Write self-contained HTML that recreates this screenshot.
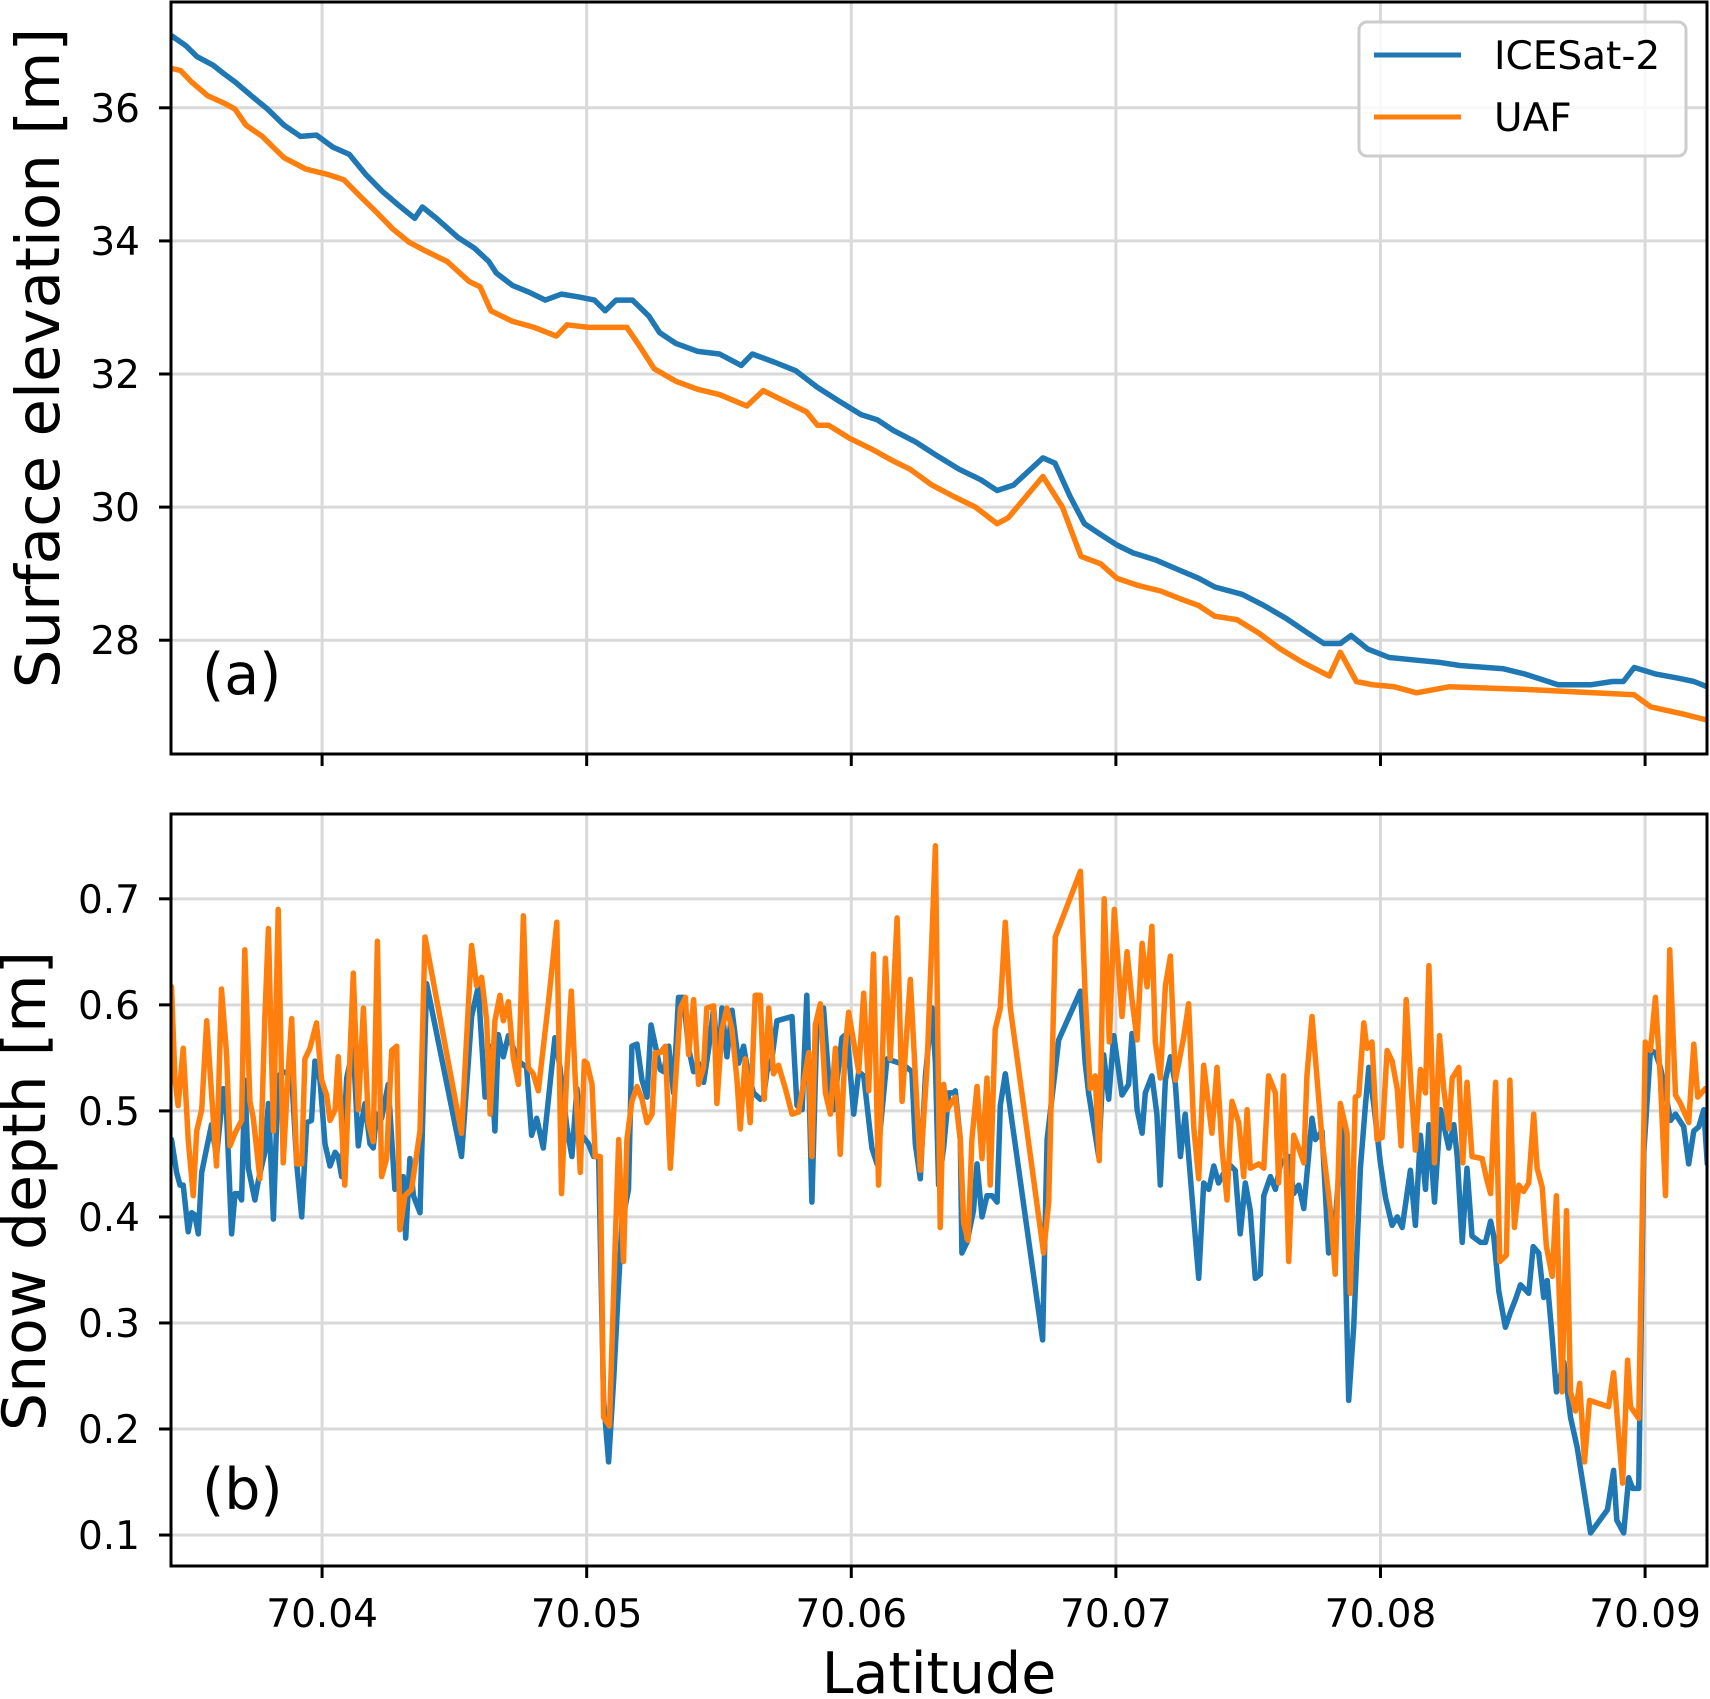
<!DOCTYPE html>
<html><head><meta charset="utf-8">
<style>
html,body{margin:0;padding:0;background:#fff;}
svg{display:block;font-family:"DejaVu Sans","Liberation Sans",sans-serif;}
</style></head>
<body>
<svg id="fig" width="1710" height="1699" viewBox="0 0 1710 1699" xmlns="http://www.w3.org/2000/svg">
<rect width="1710" height="1699" fill="#fff"/>
<g id="panelA"></g>
<g id="panelB"></g>
<text x="0" y="0" font-size="61" text-anchor="middle" transform="translate(59,358) rotate(-90)">Surface elevation [m]</text>
<text x="0" y="0" font-size="60" text-anchor="middle" transform="translate(45,1191) rotate(-90)">Snow depth [m]</text>
<text x="939" y="1693" font-size="57" text-anchor="middle">Latitude</text>
<text x="202" y="694" font-size="57">(a)</text>
<text x="202" y="1509" font-size="57">(b)</text>
<g>
<rect x="1359" y="22" width="327" height="134" rx="8" fill="#fff" fill-opacity="0.8" stroke="#cccccc" stroke-width="3"/>
<line x1="1374" y1="55" x2="1461" y2="55" stroke="#1f77b4" stroke-width="5"/>
<text x="1494" y="69" font-size="39">ICESat-2</text>
<line x1="1374" y1="117" x2="1461" y2="117" stroke="#ff7f0e" stroke-width="5"/>
<text x="1494" y="131" font-size="39">UAF</text>
</g>
</svg>
<script>
const xTicks = [70.04, 70.05, 70.06, 70.07, 70.08, 70.09];
const xTickLabels = ["70.04","70.05","70.06","70.07","70.08","70.09"];
const aTicks = [28, 30, 32, 34, 36];
const aTickLabels = ["28","30","32","34","36"];
const bTicks = [0.1,0.2,0.3,0.4,0.5,0.6,0.7];
const bTickLabels = ["0.1","0.2","0.3","0.4","0.5","0.6","0.7"];

const aIceLat = [70.03432,70.03486,70.03527,70.03588,70.03630,70.03671,70.03733,70.03794,70.03856,70.03918,70.03979,70.04041,70.04103,70.04165,70.04226,70.04288,70.04350,70.04379,70.04432,70.04514,70.04576,70.04630,70.04658,70.04720,70.04782,70.04844,70.04905,70.04967,70.05029,70.05070,70.05111,70.05173,70.05235,70.05276,70.05337,70.05420,70.05502,70.05584,70.05626,70.05708,70.05790,70.05872,70.05955,70.06037,70.06099,70.06160,70.06243,70.06325,70.06407,70.06490,70.06551,70.06613,70.06724,70.06770,70.06827,70.06881,70.06942,70.07004,70.07066,70.07148,70.07230,70.07313,70.07374,70.07477,70.07560,70.07642,70.07724,70.07786,70.07848,70.07889,70.07951,70.08033,70.08136,70.08218,70.08300,70.08465,70.08547,70.08671,70.08794,70.08877,70.08918,70.08959,70.09041,70.09123,70.09185,70.09235];
const aIceVal = [37.08,36.93,36.77,36.64,36.51,36.39,36.18,35.98,35.74,35.57,35.59,35.41,35.30,35.00,34.75,34.54,34.34,34.51,34.34,34.05,33.89,33.69,33.52,33.33,33.23,33.11,33.20,33.16,33.11,32.95,33.11,33.11,32.87,32.62,32.46,32.34,32.30,32.13,32.30,32.18,32.05,31.80,31.59,31.39,31.31,31.15,30.98,30.77,30.57,30.41,30.25,30.33,30.74,30.66,30.16,29.75,29.59,29.43,29.31,29.21,29.07,28.93,28.80,28.69,28.52,28.33,28.11,27.95,27.95,28.07,27.87,27.74,27.70,27.67,27.62,27.57,27.49,27.33,27.33,27.38,27.38,27.59,27.49,27.43,27.38,27.30];
const aUafLat = [70.03432,70.03465,70.03506,70.03568,70.03630,70.03671,70.03712,70.03774,70.03815,70.03856,70.03938,70.04021,70.04082,70.04144,70.04206,70.04267,70.04329,70.04391,70.04473,70.04556,70.04597,70.04638,70.04720,70.04802,70.04885,70.04926,70.05008,70.05152,70.05193,70.05255,70.05337,70.05420,70.05502,70.05605,70.05667,70.05749,70.05831,70.05872,70.05914,70.05996,70.06078,70.06160,70.06222,70.06305,70.06387,70.06469,70.06551,70.06593,70.06724,70.06798,70.06868,70.06942,70.07004,70.07086,70.07169,70.07251,70.07313,70.07374,70.07457,70.07539,70.07621,70.07704,70.07807,70.07848,70.07909,70.07971,70.08053,70.08136,70.08259,70.08547,70.08959,70.09021,70.09144,70.09235];
const aUafVal = [36.59,36.56,36.39,36.18,36.07,35.98,35.74,35.57,35.41,35.25,35.08,35.00,34.92,34.67,34.43,34.18,33.98,33.85,33.69,33.39,33.31,32.95,32.79,32.70,32.57,32.74,32.70,32.70,32.46,32.08,31.89,31.77,31.69,31.52,31.75,31.59,31.43,31.23,31.23,31.03,30.87,30.69,30.57,30.33,30.16,30.00,29.75,29.84,30.46,30.00,29.26,29.15,28.93,28.82,28.74,28.61,28.52,28.36,28.31,28.11,27.87,27.67,27.46,27.82,27.38,27.33,27.30,27.21,27.30,27.26,27.18,27.00,26.89,26.80];

const bIceLat = [70.03431,70.03450,70.03463,70.03475,70.03494,70.03507,70.03519,70.03532,70.03545,70.03564,70.03582,70.03601,70.03627,70.03639,70.03658,70.03671,70.03683,70.03696,70.03708,70.03721,70.03746,70.03759,70.03784,70.03797,70.03816,70.03834,70.03853,70.03885,70.03904,70.03923,70.03942,70.03960,70.03973,70.03992,70.04011,70.04030,70.04049,70.04061,70.04074,70.04093,70.04118,70.04137,70.04149,70.04162,70.04181,70.04193,70.04206,70.04225,70.04250,70.04275,70.04307,70.04316,70.04332,70.04345,70.04370,70.04395,70.04527,70.04565,70.04590,70.04616,70.04635,70.04653,70.04666,70.04685,70.04704,70.04723,70.04742,70.04773,70.04792,70.04811,70.04836,70.04880,70.04899,
70.04925,70.04944,70.04963,70.04982,70.05007,70.05026,70.05045,70.05064,70.05083,70.05102,70.05121,70.05133,70.05158,70.05171,70.05190,70.05209,70.05228,70.05243,70.05265,70.05278,70.05291,70.05310,70.05328,70.05347,70.05366,70.05385,70.05404,70.05423,70.05442,70.05461,70.05480,70.05499,70.05511,70.05530,70.05549,70.05574,70.05593,70.05612,70.05631,70.05656,70.05669,70.05681,70.05700,70.05719,70.05776,70.05795,70.05814,70.05832,70.05851,70.05870,70.05895,70.05914,70.05933,70.05965,70.05984,70.06009,70.06028,70.06047,70.06078,70.06097,70.06135,70.06160,70.06185,70.06210,70.06229,70.06242,70.06261,70.06280,70.06305,70.06318,70.06330,70.06349,70.06368,70.06387,
70.06393,70.06412,70.06418,70.06437,70.06462,70.06475,70.06494,70.06513,70.06532,70.06551,70.06563,70.06582,70.06723,70.06740,70.06784,70.06866,70.06884,70.06897,70.06935,70.06954,70.06973,70.06992,70.07023,70.07048,70.07061,70.07080,70.07099,70.07111,70.07136,70.07155,70.07168,70.07187,70.07206,70.07225,70.07244,70.07262,70.07313,70.07332,70.07351,70.07370,70.07388,70.07426,70.07451,70.07470,70.07489,70.07508,70.07527,70.07546,70.07559,70.07584,70.07603,70.07622,70.07653,70.07672,70.07691,70.07710,70.07741,70.07754,70.07779,70.07804,70.07829,70.07855,70.07880,70.07899,
70.07924,70.07943,70.07956,70.07975,70.08000,70.08019,70.08044,70.08063,70.08082,70.08113,70.08132,70.08151,70.08170,70.08183,70.08204,70.08227,70.08258,70.08277,70.08290,70.08309,70.08327,70.08346,70.08378,70.08397,70.08416,70.08428,70.08447,70.08472,70.08491,70.08510,70.08529,70.08560,70.08577,70.08598,70.08617,70.08630,70.08649,70.08665,70.08693,70.08718,70.08743,70.08794,70.08858,70.08881,70.08893,70.08919,70.08938,70.08953,70.08976,70.08995,70.09020,70.09039,70.09058,70.09071,70.09096,70.09115,70.09146,70.09165,70.09184,70.09203,70.09222,70.09235];
const bIceVal = [0.473,0.442,0.430,0.430,0.386,0.404,0.402,0.384,0.442,0.465,0.487,0.457,0.521,0.497,0.384,0.422,0.422,0.416,0.529,0.446,0.416,0.434,0.461,0.507,0.398,0.533,0.537,0.533,0.450,0.400,0.489,0.491,0.547,0.529,0.469,0.448,0.461,0.457,0.438,0.531,0.559,0.467,0.489,0.507,0.469,0.465,0.497,0.493,0.525,0.426,0.438,0.380,0.455,0.420,0.404,0.620,0.457,0.589,0.617,0.513,0.561,0.481,0.572,0.551,0.571,0.559,0.547,0.541,0.477,0.493,0.465,0.569,0.541,
0.485,0.457,0.521,0.477,0.469,0.457,0.457,0.227,0.169,0.247,0.338,0.394,0.426,0.561,0.563,0.529,0.513,0.581,0.555,0.539,0.537,0.561,0.517,0.607,0.607,0.559,0.537,0.545,0.527,0.559,0.597,0.537,0.597,0.551,0.595,0.545,0.561,0.533,0.517,0.511,0.513,0.537,0.549,0.585,0.589,0.505,0.501,0.609,0.414,0.581,0.597,0.533,0.501,0.569,0.573,0.497,0.537,0.533,0.465,0.450,0.549,0.547,0.545,0.541,0.537,0.469,0.436,0.533,0.597,0.545,0.430,0.465,0.517,0.517,
0.519,0.473,0.366,0.376,0.406,0.450,0.400,0.420,0.420,0.414,0.505,0.535,0.284,0.473,0.567,0.613,0.545,0.517,0.457,0.553,0.511,0.571,0.515,0.525,0.573,0.501,0.479,0.517,0.533,0.497,0.430,0.529,0.551,0.525,0.457,0.497,0.342,0.432,0.426,0.448,0.432,0.450,0.444,0.384,0.432,0.406,0.342,0.346,0.420,0.438,0.426,0.450,0.457,0.422,0.430,0.408,0.493,0.473,0.481,0.366,0.394,0.485,0.227,0.298,
0.446,0.505,0.541,0.505,0.450,0.418,0.392,0.400,0.390,0.444,0.392,0.477,0.426,0.487,0.414,0.501,0.465,0.487,0.457,0.376,0.446,0.382,0.376,0.376,0.396,0.382,0.330,0.296,0.310,0.322,0.336,0.328,0.372,0.366,0.324,0.340,0.286,0.235,0.263,0.211,0.183,0.102,0.124,0.161,0.114,0.102,0.154,0.144,0.144,0.461,0.557,0.555,0.541,0.525,0.491,0.497,0.485,0.450,0.481,0.485,0.501,0.450];

const bUafLat = [70.03431,70.03444,70.03456,70.03475,70.03494,70.03513,70.03526,70.03545,70.03564,70.03582,70.03601,70.03620,70.03639,70.03652,70.03671,70.03696,70.03708,70.03727,70.03740,70.03765,70.03784,70.03797,70.03816,70.03834,70.03853,70.03872,70.03885,70.03904,70.03923,70.03935,70.03954,70.03979,70.03998,70.04017,70.04030,70.04049,70.04061,70.04086,70.04118,70.04137,70.04156,70.04175,70.04193,70.04209,70.04225,70.04244,70.04263,70.04282,70.04294,70.04313,70.04338,70.04370,70.04389,70.04527,70.04565,70.04584,70.04603,70.04622,70.04635,70.04653,70.04672,70.04685,70.04704,70.04723,70.04742,70.04761,70.04779,70.04798,70.04817,70.04855,70.04887,70.04905,
70.04925,70.04942,70.04957,70.04976,70.04991,70.05001,70.05020,70.05032,70.05051,70.05064,70.05086,70.05108,70.05121,70.05139,70.05152,70.05171,70.05190,70.05209,70.05228,70.05247,70.05259,70.05278,70.05297,70.05316,70.05335,70.05354,70.05373,70.05385,70.05404,70.05423,70.05442,70.05454,70.05480,70.05492,70.05511,70.05530,70.05549,70.05568,70.05580,70.05599,70.05618,70.05637,70.05656,70.05671,70.05688,70.05706,70.05725,70.05751,70.05776,70.05801,70.05820,70.05839,70.05851,70.05864,70.05883,70.05902,70.05921,70.05940,70.05958,70.05977,70.05990,70.06009,70.06028,70.06047,70.06066,70.06084,70.06103,70.06129,70.06147,70.06173,70.06192,70.06223,70.06261,70.06286,70.06318,70.06336,70.06349,70.06362,70.06381,
70.06393,70.06412,70.06425,70.06441,70.06456,70.06475,70.06494,70.06513,70.06525,70.06544,70.06563,70.06582,70.06601,70.06727,70.06746,70.06771,70.06866,70.06884,70.06903,70.06922,70.06937,70.06956,70.06975,70.06994,70.07023,70.07042,70.07061,70.07080,70.07099,70.07118,70.07136,70.07149,70.07168,70.07187,70.07206,70.07225,70.07256,70.07275,70.07294,70.07313,70.07332,70.07363,70.07382,70.07401,70.07420,70.07439,70.07464,70.07483,70.07496,70.07508,70.07540,70.07559,70.07577,70.07603,70.07615,70.07634,70.07653,70.07672,70.07691,70.07710,70.07722,70.07741,70.07779,70.07811,70.07829,70.07848,70.07874,70.07886,70.07905,
70.07918,70.07937,70.07949,70.07968,70.07987,70.08006,70.08025,70.08044,70.08063,70.08078,70.08097,70.08113,70.08132,70.08151,70.08170,70.08183,70.08204,70.08223,70.08239,70.08258,70.08271,70.08296,70.08311,70.08327,70.08346,70.08384,70.08403,70.08416,70.08435,70.08451,70.08476,70.08489,70.08506,70.08523,70.08541,70.08560,70.08579,70.08592,70.08611,70.08627,70.08649,70.08665,70.08686,70.08703,70.08718,70.08737,70.08753,70.08771,70.08790,70.08862,70.08881,70.08915,70.08934,70.08945,70.08976,70.09001,70.09020,70.09039,70.09058,70.09077,70.09093,70.09115,70.09134,70.09165,70.09184,70.09199,70.09228];
const bUafVal = [0.617,0.529,0.505,0.559,0.473,0.420,0.481,0.501,0.585,0.517,0.448,0.615,0.553,0.467,0.479,0.491,0.652,0.509,0.493,0.436,0.589,0.672,0.481,0.690,0.451,0.537,0.587,0.450,0.450,0.549,0.559,0.583,0.529,0.515,0.491,0.501,0.551,0.430,0.630,0.501,0.597,0.489,0.471,0.660,0.438,0.455,0.557,0.561,0.388,0.420,0.426,0.481,0.664,0.479,0.656,0.618,0.626,0.585,0.497,0.585,0.609,0.585,0.603,0.549,0.525,0.684,0.541,0.535,0.519,0.601,0.678,0.422,
0.537,0.613,0.529,0.442,0.547,0.545,0.525,0.457,0.457,0.211,0.203,0.378,0.473,0.358,0.473,0.509,0.523,0.511,0.489,0.497,0.555,0.555,0.561,0.446,0.525,0.597,0.607,0.553,0.605,0.525,0.541,0.597,0.599,0.507,0.577,0.597,0.577,0.529,0.483,0.549,0.489,0.609,0.609,0.511,0.597,0.535,0.543,0.521,0.497,0.499,0.527,0.555,0.457,0.581,0.601,0.517,0.497,0.559,0.459,0.559,0.593,0.565,0.537,0.611,0.519,0.648,0.430,0.644,0.549,0.682,0.509,0.624,0.444,0.541,0.750,0.390,0.525,0.501,0.509,
0.513,0.473,0.394,0.378,0.473,0.523,0.455,0.531,0.430,0.577,0.597,0.678,0.597,0.366,0.414,0.664,0.726,0.609,0.521,0.533,0.453,0.700,0.565,0.690,0.589,0.650,0.605,0.567,0.658,0.617,0.674,0.565,0.531,0.618,0.646,0.529,0.569,0.601,0.485,0.436,0.543,0.479,0.541,0.465,0.416,0.509,0.489,0.438,0.501,0.446,0.450,0.446,0.533,0.517,0.432,0.533,0.358,0.477,0.465,0.451,0.533,0.589,0.473,0.406,0.346,0.507,0.479,0.328,0.513,
0.515,0.583,0.559,0.565,0.473,0.475,0.557,0.547,0.521,0.467,0.605,0.533,0.463,0.539,0.517,0.637,0.451,0.571,0.521,0.483,0.531,0.541,0.451,0.527,0.457,0.455,0.434,0.422,0.527,0.358,0.364,0.529,0.390,0.430,0.424,0.432,0.497,0.446,0.428,0.372,0.344,0.420,0.235,0.406,0.235,0.217,0.243,0.169,0.227,0.221,0.253,0.149,0.265,0.221,0.210,0.565,0.557,0.607,0.529,0.420,0.652,0.515,0.507,0.489,0.563,0.513,0.521];

const NS = "http://www.w3.org/2000/svg";
const X0 = 171, X1 = 1707, LAT0 = 70.03429, LAT1 = 70.09234;
function xScale(v){ return X0 + (v - LAT0) / (LAT1 - LAT0) * (X1 - X0); }
function mk(tag, attrs, parent){
  const el = document.createElementNS(NS, tag);
  for (const k in attrs) el.setAttribute(k, attrs[k]);
  parent.appendChild(el);
  return el;
}
function drawPanel(g, top, bottom, yMin, yMax, yTicks, yLabels, showX, series, prefix){
  const yScale = v => bottom - (v - yMin) / (yMax - yMin) * (bottom - top);
  const defs = mk('clipPath', {id: prefix + '-clip'}, g);
  mk('rect', {x: X0, y: top, width: X1 - X0, height: bottom - top}, defs);
  xTicks.forEach((t, i) => {
    const x = xScale(t);
    const gl = mk('line', {x1: x, x2: x, y1: top, y2: bottom, stroke: '#d9d9d9', 'stroke-width': 3}, g);
    
    
    const tk = mk('line', {x1: x, x2: x, y1: bottom, y2: bottom + 12, stroke: '#000', 'stroke-width': 3}, g);
    
    
    if (showX) {
      const tl = mk('text', {x: x, y: bottom + 61, 'font-size': 39, 'text-anchor': 'middle'}, g);
      tl.textContent = xTickLabels[i];
      
      
    }
  });
  yTicks.forEach((t, i) => {
    const y = yScale(t);
    const gl = mk('line', {x1: X0, x2: X1, y1: y, y2: y, stroke: '#d9d9d9', 'stroke-width': 3}, g);
    
    
    const tk = mk('line', {x1: X0 - 12, x2: X0, y1: y, y2: y, stroke: '#000', 'stroke-width': 3}, g);
    
    
    const tl = mk('text', {x: 140, y: y + 14, 'font-size': 39, 'text-anchor': 'end'}, g);
    tl.textContent = yLabels[i];
    
    
  });
  series.forEach(s => {
    const d = s.lat.map((v, i) => (i ? 'L' : 'M') + xScale(v).toFixed(1) + ',' + yScale(s.val[i]).toFixed(1)).join('');
    const p = mk('path', {d: d, fill: 'none', stroke: s.color, 'stroke-width': 5.5, 'stroke-linejoin': 'round', 'stroke-linecap': 'round', 'clip-path': 'url(#' + prefix + '-clip)'}, g);
    
    
  });
  const fr = mk('rect', {x: X0, y: top, width: X1 - X0, height: bottom - top, fill: 'none', stroke: '#000', 'stroke-width': 3}, g);
  
  
}
drawPanel(document.getElementById('panelA'), 2, 754, 26.29, 37.59, aTicks, aTickLabels, false,
  [{lat: aIceLat, val: aIceVal, color: '#1f77b4', name: 'elevation-line-icesat2'},
   {lat: aUafLat, val: aUafVal, color: '#ff7f0e', name: 'elevation-line-uaf'}], 'panel-a');
drawPanel(document.getElementById('panelB'), 814, 1566, 0.0708, 0.780, bTicks, bTickLabels, true,
  [{lat: bIceLat, val: bIceVal, color: '#1f77b4', name: 'snow-depth-line-icesat2'},
   {lat: bUafLat, val: bUafVal, color: '#ff7f0e', name: 'snow-depth-line-uaf'}], 'panel-b');
</script>
</body></html>
